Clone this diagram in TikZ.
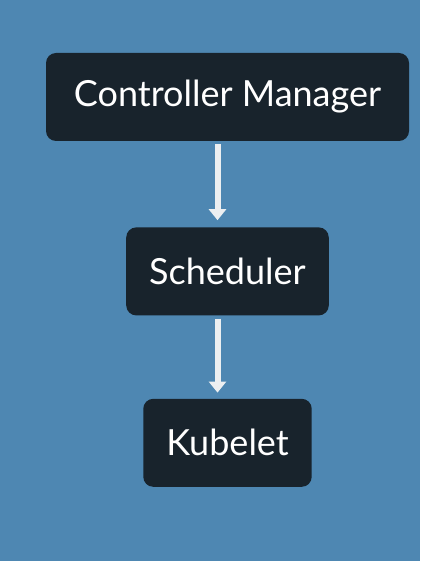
\documentclass[tikz,border=0pt]{standalone}
\usepackage{fontspec}
\setmainfont{Lato}
\usetikzlibrary{positioning, arrows.meta}
\definecolor{slideblue}{HTML}{4E87B2}
\definecolor{boxdark}{HTML}{18232C}
\definecolor{arrowwhite}{HTML}{ECEFF1}
\tikzset{
        x=1pt, y=1pt, % one unit is one pixel of the slide
        node distance=85pt, % gap between two boxes
        flow/.style={line width=6pt, draw=arrowwhite, -{Triangle[width=17pt,length=11pt]}},
    }
\tikzstyle{component}=[fill=boxdark,text=white,rounded corners=10pt,minimum height=88pt,inner xsep=23pt,font=\fontsize{36}{40}\selectfont]

\begin{document}
\begin{tikzpicture}
    \fill[slideblue] (0,0) rectangle (420,-561);
    \useasboundingbox (0,0) rectangle (420,-561);
    \node[component, minimum width=363pt] (manager) at (227.5,-97) {Controller Manager};
    \node[component, below=86pt of manager] (scheduler) {Scheduler};
    \node[component, below=83pt of scheduler] (kubelet) {Kubelet};
    \draw[flow, shorten <=3pt, shorten >=7pt] ([xshift=-10pt]manager.south) -- ([xshift=-10pt]scheduler.north);
    \draw[flow, shorten <=3pt, shorten >=6pt] ([xshift=-10pt]scheduler.south) -- ([xshift=-10pt]kubelet.north);
\end{tikzpicture}
\end{document}
